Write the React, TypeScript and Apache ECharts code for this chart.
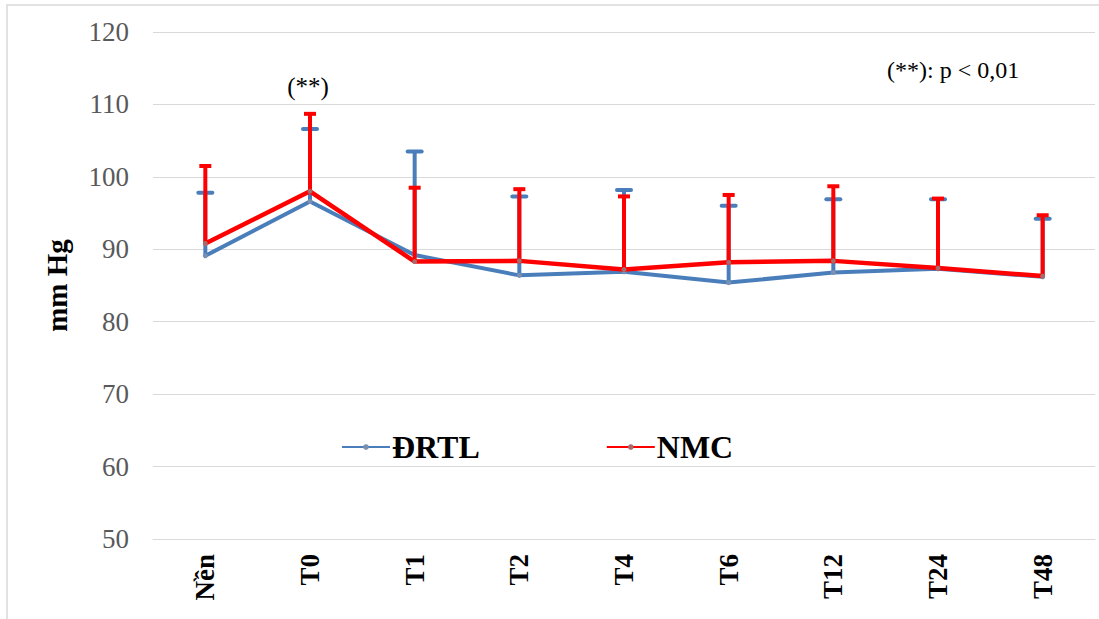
import React, { useEffect, useRef } from "react";
import * as echarts from "echarts";

// Time points of measurement
const categories = ["Nền", "T0", "T1", "T2", "T4", "T6", "T12", "T24", "T48"];

// ĐRTL group: mean and standard deviation (mm Hg)
const drtlMean = [89.1, 96.6, 89.2, 86.4, 86.9, 85.4, 86.8, 87.3, 86.2];
const drtlSd = [8.7, 10.0, 14.3, 10.9, 11.3, 10.6, 10.1, 9.6, 8.0];

// NMC group: mean and standard deviation (mm Hg)
const nmcMean = [90.8, 98.0, 88.3, 88.4, 87.2, 88.2, 88.4, 87.4, 86.3];
const nmcSd = [10.7, 10.7, 10.2, 9.9, 10.1, 9.3, 10.3, 9.6, 8.4];

const yTicks = { min: 50, max: 120, interval: 10 };

const SERIF = "Liberation Serif";
const BLUE = "#4a7ebb";
const RED = "#ff0000";

// Upper error bar (mean + SD) drawn through the chart's own scales
function errorBar(color: string, capHalf: number, cap: "round" | "butt") {
  return (params: any, api: any) => {
    const i = api.value(0);
    const m = api.value(1);
    const sd = api.value(2);
    const base = api.coord([i, m]);
    const top = api.coord([i, m + sd]);
    return {
      type: "group",
      children: [
        {
          type: "line",
          shape: { x1: base[0], y1: base[1], x2: top[0], y2: top[1] },
          style: { stroke: color, lineWidth: 4 },
        },
        {
          type: "line",
          shape: { x1: top[0] - capHalf, y1: top[1], x2: top[0] + capHalf, y2: top[1] },
          style: { stroke: color, lineWidth: 4, lineCap: cap },
        },
      ],
    };
  };
}

export default function App() {
  const ref = useRef<HTMLDivElement>(null);

  useEffect(() => {
    if (!ref.current) return;
    const chart = echarts.init(ref.current, undefined, { renderer: "svg" });

    const drtlBars = categories.map((_, i) => [i, drtlMean[i], drtlSd[i]]);
    const nmcBars = categories.map((_, i) => [i, nmcMean[i], nmcSd[i]]);

    chart.setOption({
      animation: false,
      backgroundColor: "#ffffff",
      textStyle: { fontFamily: SERIF },
      grid: { left: 153, right: 4, top: 32, bottom: 80 },
      legend: {
        left: 336,
        top: 426,
        itemWidth: 48,
        itemHeight: 7,
        itemGap: 126,
        formatter: (name: string) => `{t|${name}}`,
        textStyle: {
          fontFamily: SERIF,
          fontWeight: "bold",
          fontSize: 32,
          color: "#000",
          padding: [0, 0, 0, -3],
          rich: {
            t: { fontFamily: SERIF, fontWeight: "bold", fontSize: 32, color: "#000" },
          },
        },
        data: ["ĐRTL", "NMC"],
      },
      xAxis: {
        type: "category",
        data: categories,
        boundaryGap: true,
        axisLine: { show: true, lineStyle: { color: "#d9d9d9", width: 1 } },
        axisTick: { show: false },
        axisLabel: {
          rotate: 90,
          margin: 15,
          fontFamily: SERIF,
          fontWeight: "bold",
          fontSize: 27,
          color: "#000",
        },
      },
      yAxis: {
        type: "value",
        min: yTicks.min,
        max: yTicks.max,
        interval: yTicks.interval,
        name: "mm Hg",
        nameLocation: "middle",
        nameGap: 82,
        nameRotate: 90,
        nameTextStyle: { fontFamily: SERIF, fontWeight: "bold", fontSize: 29, color: "#000" },
        axisLine: { show: false },
        axisTick: { show: false },
        axisLabel: { fontFamily: SERIF, fontSize: 27, color: "#595959", margin: 24 },
        splitLine: { lineStyle: { color: "#d9d9d9", width: 1 } },
      },
      graphic: [
        {
          type: "rect",
          shape: { x: 7, y: 5, width: 1200, height: 700 },
          style: { fill: "none", stroke: "#d9d9d9", lineWidth: 1.5 },
          silent: true,
        },
        {
          type: "text",
          x: 308,
          y: 86,
          style: {
            text: "(**)",
            fontFamily: SERIF,
            fontSize: 25,
            fill: "#000",
            align: "center",
            verticalAlign: "middle",
          },
        },
        {
          type: "text",
          x: 887,
          y: 70,
          style: {
            text: "(**): p < 0,01",
            fontFamily: SERIF,
            fontSize: 24,
            fill: "#000",
            align: "left",
            verticalAlign: "middle",
          },
        },
      ],
      series: [
        {
          name: "ĐRTL",
          type: "line",
          data: drtlMean,
          z: 2,
          symbol: "circle",
          symbolSize: 5,
          lineStyle: { color: BLUE, width: 4 },
          itemStyle: { color: "#7b8fb0" },
        },
        {
          name: "ĐRTL-sd",
          type: "custom",
          data: drtlBars,
          z: 2,
          renderItem: errorBar(BLUE, 7, "round"),
          silent: true,
        },
        {
          name: "NMC",
          type: "line",
          data: nmcMean,
          z: 3,
          symbol: "circle",
          symbolSize: 5,
          lineStyle: { color: RED, width: 4.5 },
          itemStyle: { color: "#a86a6a" },
        },
        {
          name: "NMC-sd",
          type: "custom",
          data: nmcBars,
          z: 3,
          renderItem: errorBar(RED, 6, "butt"),
          silent: true,
        },
      ],
    });

    return () => chart.dispose();
  }, []);

  return (
    <div
      ref={ref}
      style={{ position: "absolute", left: 0, top: 0, width: 1099, height: 619 }}
    />
  );
}
